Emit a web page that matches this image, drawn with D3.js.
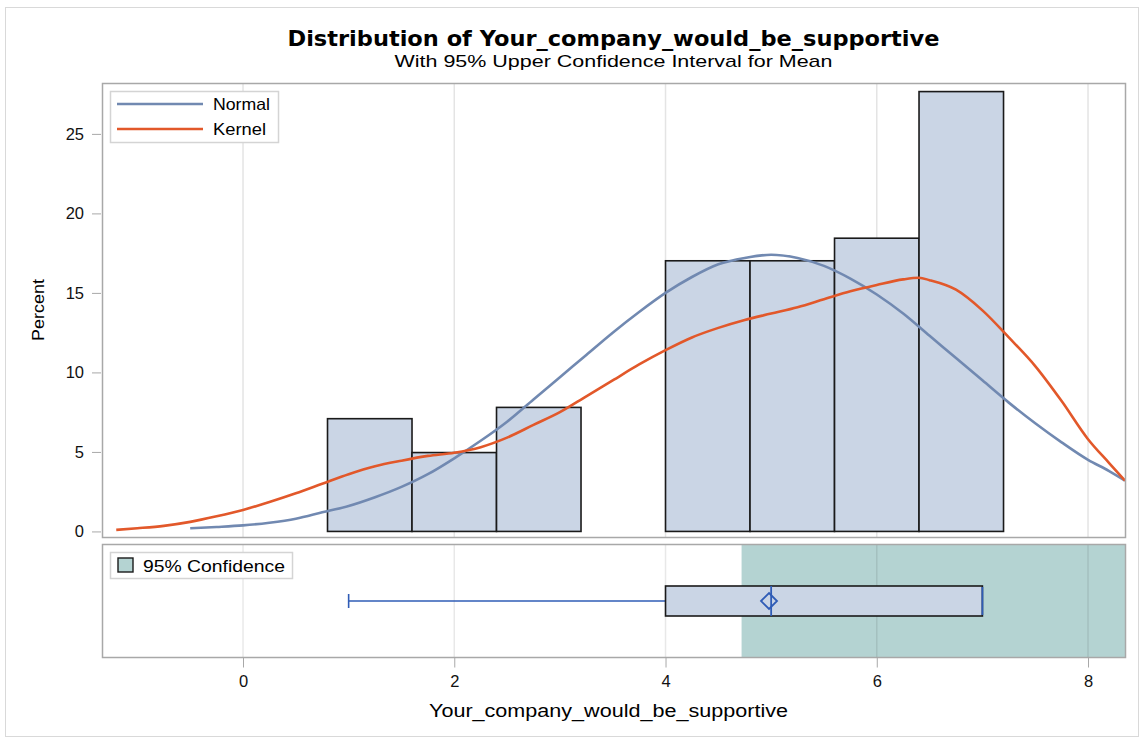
<!DOCTYPE html>
<html>
<head>
<meta charset="utf-8">
<script src="https://cdn.jsdelivr.net/npm/d3@7"></script>
<style>
  body { margin: 0; background: #fff; }
  svg { display: block; font-family: "Liberation Sans", Arial, sans-serif; }
</style>
</head>
<body>
<div id="chart"></div>
<script>
// histogram bins (left edge) and percent per bin
const binStarts = [0.8, 1.6, 2.4, 3.2, 4.0, 4.8, 5.6, 6.4];
const binWidth = 0.8;
const binPercents = [7.09, 4.96, 7.80, 0, 17.02, 17.02, 18.44, 27.66];

// fitted normal curve
const normalX = [-0.5, -0.25, 0, 0.25, 0.5, 0.75, 1, 1.25, 1.5, 1.75, 2, 2.25, 2.5, 2.75, 3, 3.25, 3.5, 3.75, 4, 4.25, 4.5, 4.75, 5, 5.25, 5.5, 5.75, 6, 6.25, 6.5, 6.75, 7, 7.25, 7.5, 7.75, 8, 8.2, 8.35];
const normalY = [0.2, 0.28, 0.38, 0.55, 0.8, 1.2, 1.6, 2.15, 2.8, 3.6, 4.6, 5.7, 6.9, 8.3, 9.7, 11.1, 12.5, 13.8, 15.0, 16.0, 16.8, 17.2, 17.4, 17.2, 16.7, 15.9, 14.9, 13.7, 12.3, 10.9, 9.5, 8.1, 6.8, 5.6, 4.5, 3.8, 3.2];

// kernel density curve
const kernelX = [-1.2, -1, -0.75, -0.5, -0.25, 0, 0.25, 0.5, 0.75, 1, 1.25, 1.5, 1.75, 2, 2.25, 2.5, 2.75, 3, 3.25, 3.5, 3.75, 4, 4.25, 4.5, 4.75, 5, 5.25, 5.5, 5.75, 6, 6.25, 6.4, 6.5, 6.75, 7, 7.25, 7.5, 7.75, 8, 8.2, 8.35];
const kernelY = [0.1, 0.2, 0.35, 0.6, 0.95, 1.35, 1.85, 2.4, 3.0, 3.6, 4.1, 4.45, 4.75, 4.95, 5.3, 5.9, 6.7, 7.5, 8.5, 9.5, 10.5, 11.4, 12.2, 12.8, 13.3, 13.7, 14.1, 14.6, 15.1, 15.5, 15.85, 15.95, 15.8, 15.2, 13.9, 12.2, 10.4, 8.2, 5.8, 4.3, 3.2];

// box plot summary
const boxStats = { min: 1, q1: 4, median: 5, q3: 7, max: 7, mean: 4.98 };
const ciLower = 4.72;

const xTicks = [0, 2, 4, 6, 8];
const yTicks = [0, 5, 10, 15, 20, 25];

const W = 1143, H = 740;
const left = 102, right = 1125;
const histTop = 83, histBottom = 537;
const boxTop = 544, boxBottom = 657;

const blue = '#7189b1', orange = '#e2582a', boxBlue = '#2f5cb6';

const svg = d3.select('#chart').append('svg')
  .attr('width', W).attr('height', H);

// outer border
svg.append('rect')
  .attr('x', 5.5).attr('y', 7.5).attr('width', 1133).attr('height', 729)
  .attr('fill', 'none').attr('stroke', '#d9d9d9');

const x = d3.scaleLinear().domain([-1.335, 8.35]).range([left, right]);
const y = d3.scaleLinear().domain([-0.35, 28.2]).range([histBottom, histTop]);

// stretch a text to the width it has in the picture
function fit(sel, w) {
  sel.attr('textLength', w).attr('lengthAdjust', 'spacingAndGlyphs');
  return sel;
}

// titles
fit(svg.append('text')
  .attr('x', (left + right) / 2).attr('y', 46)
  .attr('text-anchor', 'middle')
  .attr('font-family', '"DejaVu Sans", sans-serif')
  .attr('font-weight', 'bold').attr('font-size', 21.5)
  .text('Distribution of Your_company_would_be_supportive'), 652);
fit(svg.append('text')
  .attr('x', (left + right) / 2).attr('y', 67)
  .attr('text-anchor', 'middle').attr('font-size', 17)
  .text('With 95% Upper Confidence Interval for Mean'), 438);

// --- histogram panel ---
const hist = svg.append('g');

hist.selectAll('line.grid').data(xTicks).join('line')
  .attr('class', 'grid')
  .attr('x1', d => x(d)).attr('x2', d => x(d))
  .attr('y1', histTop).attr('y2', histBottom)
  .attr('stroke', '#e4e4e4').attr('stroke-width', 1.5);

hist.selectAll('rect.bar').data(binStarts).join('rect')
  .attr('class', 'bar')
  .attr('x', d => x(d))
  .attr('width', d => x(d + binWidth) - x(d))
  .attr('y', (d, i) => y(binPercents[i]))
  .attr('height', (d, i) => y(0) - y(binPercents[i]))
  .attr('fill', '#cad5e5')
  .attr('stroke', '#1a1a1a').attr('stroke-width', 1.6);

const line = d3.line().x(d => x(d[0])).y(d => y(d[1])).curve(d3.curveMonotoneX);

hist.append('path')
  .datum(normalX.map((v, i) => [v, normalY[i]]))
  .attr('d', line)
  .attr('fill', 'none').attr('stroke', blue).attr('stroke-width', 2.6);

hist.append('path')
  .datum(kernelX.map((v, i) => [v, kernelY[i]]))
  .attr('d', line)
  .attr('fill', 'none').attr('stroke', orange).attr('stroke-width', 2.6);

hist.append('rect')
  .attr('x', left + 0.5).attr('y', histTop + 0.5)
  .attr('width', right - left).attr('height', histBottom - histTop)
  .attr('fill', 'none').attr('stroke', '#a8a8a8').attr('stroke-width', 1.5);

const yAxis = svg.append('g')
  .attr('transform', `translate(${left - 1},0)`)
  .call(d3.axisLeft(y).tickValues(yTicks).tickSize(9).tickPadding(8));
yAxis.select('.domain').remove();
yAxis.selectAll('line').attr('stroke', '#a8a8a8');
yAxis.selectAll('text').attr('font-size', 16.5).attr('fill', '#111')
  .attr('font-family', '"Liberation Sans", Arial, sans-serif');

fit(svg.append('text')
  .attr('transform', `translate(44,${(histTop + histBottom) / 2}) rotate(-90)`)
  .attr('text-anchor', 'middle').attr('font-size', 16.5)
  .text('Percent'), 62);

// legend
const leg = svg.append('g');
leg.append('rect')
  .attr('x', 110.5).attr('y', 91.5).attr('width', 168).attr('height', 51)
  .attr('fill', '#fff').attr('stroke', '#d4d4d4').attr('stroke-width', 1.5);
const legItems = [['Normal', blue, 57], ['Kernel', orange, 53]];
legItems.forEach((d, i) => {
  const yy = 104 + i * 25;
  leg.append('line')
    .attr('x1', 117).attr('x2', 203).attr('y1', yy).attr('y2', yy)
    .attr('stroke', d[1]).attr('stroke-width', 2.6);
  fit(leg.append('text')
    .attr('x', 213).attr('y', yy + 6).attr('font-size', 16.5)
    .text(d[0]), d[2]);
});

// --- box panel ---
const box = svg.append('g');
const bMid = 601, bHalf = 15;

box.append('rect')
  .attr('x', x(ciLower)).attr('y', boxTop)
  .attr('width', right - x(ciLower)).attr('height', boxBottom - boxTop)
  .attr('fill', '#b4d3d2');

box.selectAll('line.grid').data(xTicks).join('line')
  .attr('class', 'grid')
  .attr('x1', d => x(d)).attr('x2', d => x(d))
  .attr('y1', boxTop).attr('y2', boxBottom)
  .attr('stroke', '#000').attr('stroke-opacity', 0.09).attr('stroke-width', 1.5);

box.append('line')
  .attr('x1', x(boxStats.min)).attr('x2', x(boxStats.q1))
  .attr('y1', bMid).attr('y2', bMid)
  .attr('stroke', boxBlue).attr('stroke-width', 1.6);
box.append('line')
  .attr('x1', x(boxStats.min)).attr('x2', x(boxStats.min))
  .attr('y1', bMid - 7).attr('y2', bMid + 7)
  .attr('stroke', boxBlue).attr('stroke-width', 1.6);

box.append('rect')
  .attr('x', x(boxStats.q1)).attr('y', bMid - bHalf)
  .attr('width', x(boxStats.q3) - x(boxStats.q1)).attr('height', bHalf * 2)
  .attr('fill', '#cad5e5').attr('stroke', '#1a1a1a').attr('stroke-width', 1.6);

box.append('line')
  .attr('x1', x(boxStats.median)).attr('x2', x(boxStats.median))
  .attr('y1', bMid - bHalf).attr('y2', bMid + bHalf)
  .attr('stroke', boxBlue).attr('stroke-width', 1.8);
box.append('line')
  .attr('x1', x(boxStats.max)).attr('x2', x(boxStats.max))
  .attr('y1', bMid - bHalf + 1).attr('y2', bMid + bHalf - 1)
  .attr('stroke', boxBlue).attr('stroke-width', 1.8);

const mx = x(boxStats.mean), dr = 8;
box.append('path')
  .attr('d', `M${mx - dr},${bMid}L${mx},${bMid - dr}L${mx + dr},${bMid}L${mx},${bMid + dr}Z`)
  .attr('fill', 'none').attr('stroke', boxBlue).attr('stroke-width', 1.8);

box.append('rect')
  .attr('x', left + 0.5).attr('y', boxTop + 0.5)
  .attr('width', right - left).attr('height', boxBottom - boxTop)
  .attr('fill', 'none').attr('stroke', '#a8a8a8').attr('stroke-width', 1.5);

// confidence legend
box.append('rect')
  .attr('x', 110.5).attr('y', 552.5).attr('width', 182).attr('height', 26)
  .attr('fill', '#fff').attr('stroke', '#d4d4d4').attr('stroke-width', 1.5);
box.append('rect')
  .attr('x', 118).attr('y', 558).attr('width', 15).attr('height', 14)
  .attr('fill', '#b4d3d2').attr('stroke', '#1a1a1a').attr('stroke-width', 1.4);
fit(box.append('text')
  .attr('x', 143).attr('y', 571.5).attr('font-size', 16.5)
  .text('95% Confidence'), 142);

// x axis
const xAxis = svg.append('g')
  .attr('transform', `translate(0,${boxBottom + 0.5})`)
  .call(d3.axisBottom(x).tickValues(xTicks).tickSize(10).tickPadding(8));
xAxis.select('.domain').remove();
xAxis.selectAll('line').attr('stroke', '#a8a8a8');
xAxis.selectAll('text').attr('font-size', 16.5).attr('fill', '#111')
  .attr('font-family', '"Liberation Sans", Arial, sans-serif');

fit(svg.append('text')
  .attr('x', (left + right) / 2 - 5).attr('y', 717)
  .attr('text-anchor', 'middle').attr('font-size', 17.5)
  .text('Your_company_would_be_supportive'), 359);
</script>
</body>
</html>
